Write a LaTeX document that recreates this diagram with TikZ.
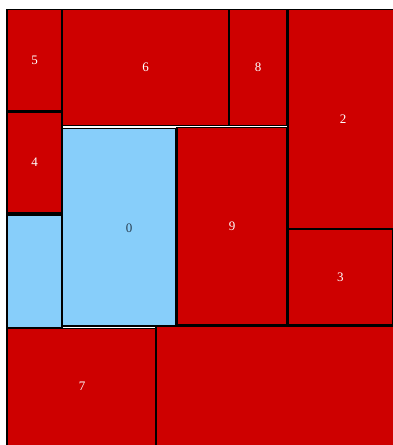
\documentclass[tikz,border=0pt]{standalone}
\usepackage{fontspec}
\setmainfont{Liberation Serif}
\definecolor{boxred}{RGB}{206,0,0}
\definecolor{boxblue}{RGB}{135,206,250}
\definecolor{labeldark}{RGB}{40,62,80}
\begin{document}
\begin{tikzpicture}[x=1pt, y=-1pt,
    packed/.style={draw=black, line width=1.1pt, inner sep=0pt, outer sep=0pt, font=\fontsize{13}{15}\selectfont},
    redbox/.style={packed, fill=boxred, text=white},
    bluebox/.style={packed, fill=boxblue, text=labeldark}]
        \useasboundingbox (0,0) rectangle (393,445);
        \clip (0,0) rectangle (393,445);

        % Top row
        \node[redbox, minimum width=55pt, minimum height=101pt] (b5) at (34.5,60) {5};
        \node[redbox, minimum width=167pt, minimum height=116pt] (b6) at (145.5,67.5) {6};
        \node[redbox, minimum width=58pt, minimum height=116pt] (b8) at (258,67.5) {8};
        \node[redbox, minimum width=110pt, minimum height=219.5pt] (b2) at (343,119.25) {2};

        % Middle
        \node[redbox, minimum width=55pt, minimum height=101pt] (b4) at (34.5,162.5) {4};
        \node[bluebox, minimum width=55pt, minimum height=113pt] (b1) at (34.5,271.5) {};
        \node[bluebox, minimum width=114pt, minimum height=197.5pt] (b0) at (119,227.25) {};
        \node[text=labeldark, font=\fontsize{13}{15}\selectfont] (l0) at (129,228) {0};
        \node[redbox, minimum width=110pt, minimum height=197.5pt] (b9) at (232,226.25) {9};
        \node[redbox, minimum width=104.5pt, minimum height=95pt] (b3) at (340.25,277) {3};

        % Bottom row
        \node[redbox, minimum width=149pt, minimum height=120pt] (b7) at (81.5,388.5) {};
        \node[text=white, font=\fontsize{13}{15}\selectfont] (l7) at (82,386) {7};
        \node[redbox, minimum width=240pt, minimum height=122pt] (b10) at (276,387) {};
    \end{tikzpicture}
\end{document}
